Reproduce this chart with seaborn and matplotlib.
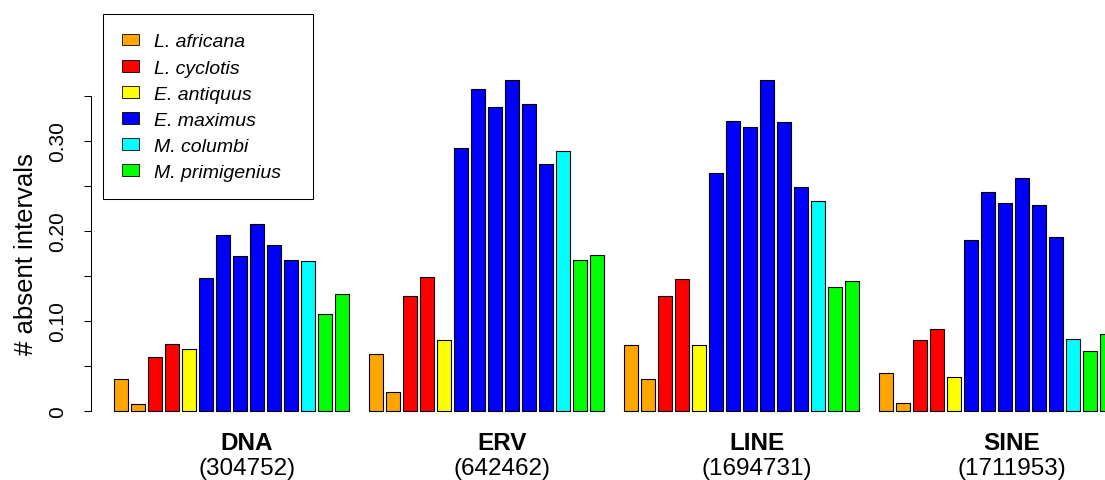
import numpy as np
import pandas as pd
import matplotlib
matplotlib.use("Agg")
import matplotlib.pyplot as plt
from matplotlib.patches import Patch, Rectangle
import seaborn as sns

# Datos
grupos = ["DNA", "ERV", "LINE", "SINE"]
conteos = ["(304752)", "(642462)", "(1694731)", "(1711953)"]
especies = ["L. africana", "L. cyclotis", "E. antiquus",
            "E. maximus", "M. columbi", "M. primigenius"]
colores = ["#FFA500", "#FF0000", "#FFFF00", "#0000FF", "#00FFFF", "#00FF00"]
# especie de cada barra dentro de un grupo
barras = ["L. africana", "L. africana", "L. cyclotis", "L. cyclotis",
          "E. antiquus", "E. maximus", "E. maximus", "E. maximus",
          "E. maximus", "E. maximus", "E. maximus", "M. columbi",
          "M. primigenius", "M. primigenius"]

dna = [0.035, 0.008, 0.060, 0.074, 0.069, 0.148, 0.195, 0.172, 0.207,
       0.184, 0.167, 0.166, 0.108, 0.130]
erv = [0.063, 0.021, 0.128, 0.149, 0.079, 0.292, 0.358, 0.337, 0.368,
       0.341, 0.274, 0.289, 0.168, 0.173]
line = [0.073, 0.035, 0.127, 0.146, 0.073, 0.264, 0.322, 0.315, 0.367,
        0.321, 0.249, 0.233, 0.138, 0.144]
sine = [0.042, 0.009, 0.079, 0.091, 0.037, 0.190, 0.243, 0.231, 0.259,
        0.229, 0.193, 0.080, 0.066, 0.085]
valores = [dna, erv, line, sine]

# Tabla larga
filas = []
for g, (grupo, vals) in enumerate(zip(grupos, valores)):
    for i, (esp, v) in enumerate(zip(barras, vals)):
        filas.append({"grupo": grupo, "pos": g * 15 + i, "especie": esp, "valor": v})
df = pd.DataFrame(filas)

sns.set_theme(style="white")
plt.rcParams['font.family'] = ['Liberation Sans', 'DejaVu Sans']
plt.rcParams['text.color'] = 'black'
plt.rcParams['axes.labelcolor'] = 'black'
plt.rcParams['ytick.color'] = 'black'

W, H = 1105, 481
fig = plt.figure(figsize=(W / 100, H / 100), dpi=100)
y0, y1 = -0.002, 0.45
ax = fig.add_axes([90.7 / W, (H - 413.5) / H, (W - 90.7) / W, (413.5 - 6.7) / H])

paleta = dict(zip(especies, colores))
sns.barplot(data=df, x="pos", y="valor", hue="especie", palette=paleta,
            native_scale=True, dodge=False, width=0.85, errorbar=None,
            saturation=1, edgecolor="black", linewidth=0.8, legend=False, ax=ax)

ax.set_xlim(-1.797, 57.87)
ax.set_ylim(y0, y1)
ax.set_xticks([])
ax.set_xlabel("")

ticks = np.arange(0, 0.351, 0.05)
ax.set_yticks(ticks)
ax.set_yticklabels(["0", "", "0.10", "", "0.20", "", "0.30", ""],
                   rotation=90, va="center", fontsize=15)
ax.tick_params(axis="y", length=5, width=0.75, pad=12, color="black",
               labelcolor="black", left=True)
for s in ["top", "right", "bottom"]:
    ax.spines[s].set_visible(False)
ax.spines["left"].set_bounds(0, 0.35)
ax.spines["left"].set_linewidth(0.75)
ax.spines["left"].set_color("black")

ax.set_ylabel("# absent intervals", fontsize=18.5, color="black")
ax.yaxis.set_label_coords((38 - 90.7) / (W - 90.7), 0.175,
                          transform=ax.get_yaxis_transform())

# Etiquetas de grupo
for g, (grupo, n) in enumerate(zip(grupos, conteos)):
    xc = g * 15 + 6.5 + 0.9
    ax.text(xc, -0.0426, grupo, ha="center", va="baseline", fontsize=17.5,
            fontweight="bold", color="black", clip_on=False)
    ax.text(xc, -0.0703, n, ha="center", va="baseline", fontsize=17.5,
            color="black", clip_on=False)

# Leyenda (marco dibujado aparte, como en R)
marco = Rectangle((102.7 / W, 1 - 200 / H), (313.3 - 102.7) / W, (200 - 15) / H,
                  transform=fig.transFigure, facecolor="white",
                  edgecolor="black", linewidth=0.75, zorder=5)
fig.patches.append(marco)
handles = [Patch(facecolor=c, edgecolor="black", linewidth=0.6) for c in colores]
leg = fig.legend(handles, especies, loc="upper left",
                 bbox_to_anchor=(102.7 / W, 1 - 15 / H), borderaxespad=0,
                 frameon=False, handlelength=0.86, handleheight=0.55,
                 handletextpad=0.77, borderpad=1.0, labelspacing=0.47,
                 prop={"style": "italic", "size": 14})
leg.set_zorder(6)

plt.savefig("out.png", dpi=100)
